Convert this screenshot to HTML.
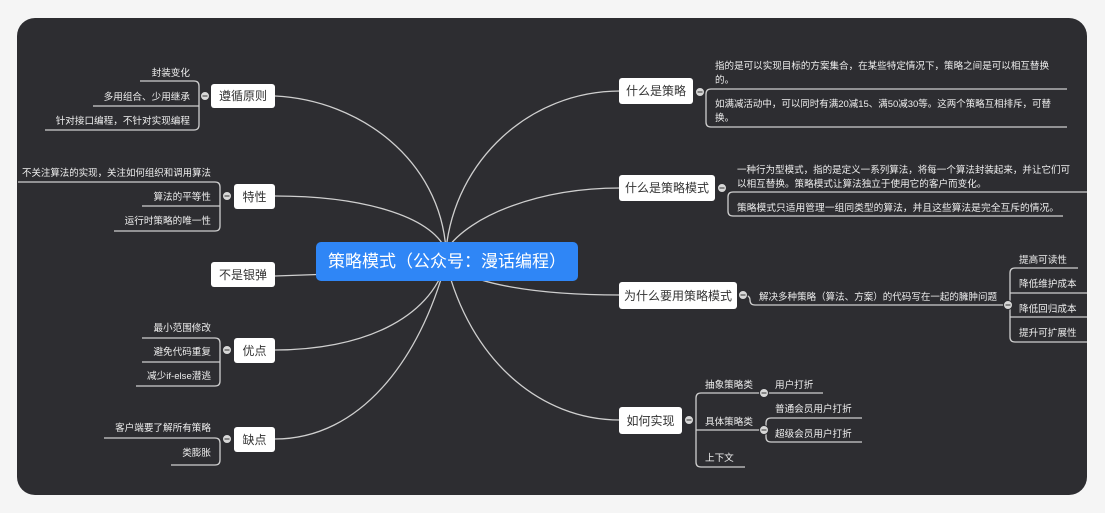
<!DOCTYPE html>
<html><head><meta charset="utf-8"><style>
html,body{margin:0;padding:0;background:#f4f4f4;}
svg{display:block;}
text{font-family:"Liberation Sans","Noto Sans CJK SC",sans-serif;}
.l{fill:#eee;font-size:9.6px;}
.n{fill:#333;font-size:12px;}
</style></head><body>
<svg width="1105" height="513" viewBox="0 0 1105 513" xmlns="http://www.w3.org/2000/svg">
<rect x="0" y="0" width="1105" height="513" fill="#f5f5f5"/>
<rect x="17" y="18" width="1070" height="477" rx="18" fill="#2d2d31"/>
<g fill="none" stroke="#cfcfcf" stroke-width="1.3">
<path d="M446 250 C440 160 360 100 275 96"/>
<path d="M446 250 C430 215 360 196 275 196"/>
<path d="M446 270 L275 276"/>
<path d="M446 262 C430 320 360 350 275 350"/>
<path d="M446 262 C420 360 360 439 275 439"/>
<path d="M446 250 C455 160 530 91 620 91"/>
<path d="M446 250 C470 215 540 188 620 188"/>
<path d="M446 262 C470 285 540 295 620 295"/>
<path d="M446 262 C470 360 540 420 620 420"/>
<path d="M140 81 H194 Q199 81 199 86 V125 Q199 130 194 130 H45"/>
<path d="M93 106 H199"/>
<path d="M18 182 H215 Q220 182 220 187 V226 Q220 231 215 231 H114"/>
<path d="M142 206 H220"/>
<path d="M142 338 H215 Q220 338 220 343 V381 Q220 386 215 386 H136"/>
<path d="M142 362 H220"/>
<path d="M104 438 H215 Q220 438 220 443 V460 Q220 465 215 465 H171"/>
<path d="M1067 89 H711 Q706 89 706 94 V122 Q706 127 711 127 H1067"/>
<path d="M1087 192 H733 Q728 192 728 197 V211 Q728 216 733 216 H1063"/>
<path d="M743 295 Q750 295 750 300 Q750 305 755 305 H1008"/>
<path d="M1078 268 H1015 Q1010 268 1010 273 V337 Q1010 342 1015 342 H1087"/>
<path d="M1010 293 H1087 M1010 317 H1087"/>
<path d="M823 393 H701 Q696 393 696 398 V462 Q696 467 701 467 H745"/>
<path d="M696 430 H766"/>
<path d="M862 418 H771 Q766 418 766 423 V437 Q766 442 771 442 H862"/>
</g>
<g fill="#d8d8d8" stroke="#2d2d31" stroke-width="1">
<circle cx="205" cy="96" r="4.5"/><circle cx="227" cy="196" r="4.5"/>
<circle cx="227" cy="350" r="4.5"/><circle cx="227" cy="439" r="4.5"/>
<circle cx="700" cy="92" r="4.5"/><circle cx="722" cy="188" r="4.5"/>
<circle cx="743" cy="295" r="4.5"/><circle cx="1008" cy="305" r="4.5"/>
<circle cx="689" cy="420" r="4.5"/><circle cx="764" cy="393" r="4.5"/><circle cx="764" cy="430" r="4.5"/>
</g>
<g stroke="#555" stroke-width="1.2">
<path d="M202.5 96h5M224.5 196h5M224.5 350h5M224.5 439h5M697.5 92h5M719.5 188h5M740.5 295h5M1005.5 305h5M686.5 420h5M761.5 393h5M761.5 430h5"/>
</g>
<rect x="316" y="242" width="262" height="39" rx="5" fill="#2f86f6"/>
<text x="447" y="267" text-anchor="middle" fill="#fff" font-size="17">策略模式（公众号：漫话编程）</text>
<g fill="#fff">
<rect x="211" y="84" width="64" height="24" rx="3"/>
<rect x="234" y="184" width="41" height="25" rx="3"/>
<rect x="211" y="262" width="64" height="25" rx="3"/>
<rect x="234" y="338" width="41" height="25" rx="3"/>
<rect x="234" y="427" width="41" height="25" rx="3"/>
<rect x="619" y="78" width="74" height="26" rx="3"/>
<rect x="619" y="175" width="96" height="26" rx="3"/>
<rect x="619" y="282" width="118" height="27" rx="3"/>
<rect x="619" y="407" width="63" height="27" rx="3"/>
</g>
<g class="n" text-anchor="middle">
<text x="243" y="100">遵循原则</text>
<text x="254.5" y="201">特性</text>
<text x="243" y="279">不是银弹</text>
<text x="254.5" y="355">优点</text>
<text x="254.5" y="444">缺点</text>
<text x="656" y="95">什么是策略</text>
<text x="667" y="192">什么是策略模式</text>
<text x="678" y="300">为什么要用策略模式</text>
<text x="650.5" y="425">如何实现</text>
</g>
<g class="l" text-anchor="end">
<text x="190" y="76">封装变化</text>
<text x="190" y="100">多用组合、少用继承</text>
<text x="190" y="124">针对接口编程，不针对实现编程</text>
<text x="211" y="176" textLength="189" lengthAdjust="spacingAndGlyphs">不关注算法的实现，关注如何组织和调用算法</text>
<text x="211" y="200">算法的平等性</text>
<text x="211" y="224">运行时策略的唯一性</text>
<text x="211" y="331">最小范围修改</text>
<text x="211" y="355">避免代码重复</text>
<text x="211" y="379">减少if-else潜逃</text>
<text x="211" y="431">客户端要了解所有策略</text>
<text x="211" y="456">类膨胀</text>
</g>
<g class="l">
<text x="715" y="69" textLength="334" lengthAdjust="spacingAndGlyphs">指的是可以实现目标的方案集合，在某些特定情况下，策略之间是可以相互替换</text>
<text x="715" y="83">的。</text>
<text x="715" y="107" textLength="336" lengthAdjust="spacingAndGlyphs">如满减活动中，可以同时有满20减15、满50减30等。这两个策略互相排斥，可替</text>
<text x="715" y="121">换。</text>
<text x="737" y="173" textLength="333" lengthAdjust="spacingAndGlyphs">一种行为型模式，指的是定义一系列算法，将每一个算法封装起来，并让它们可</text>
<text x="737" y="187">以相互替换。策略模式让算法独立于使用它的客户而变化。</text>
<text x="737" y="211" textLength="322" lengthAdjust="spacingAndGlyphs">策略模式只适用管理一组同类型的算法，并且这些算法是完全互斥的情况。</text>
<text x="759" y="300" textLength="238" lengthAdjust="spacingAndGlyphs">解决多种策略（算法、方案）的代码写在一起的臃肿问题</text>
<text x="1019" y="263">提高可读性</text>
<text x="1019" y="287">降低维护成本</text>
<text x="1019" y="312">降低回归成本</text>
<text x="1019" y="336">提升可扩展性</text>
<text x="705" y="388">抽象策略类</text>
<text x="775" y="388">用户打折</text>
<text x="705" y="425">具体策略类</text>
<text x="775" y="412">普通会员用户打折</text>
<text x="775" y="437">超级会员用户打折</text>
<text x="705" y="461">上下文</text>
</g>
</svg>
</body></html>
